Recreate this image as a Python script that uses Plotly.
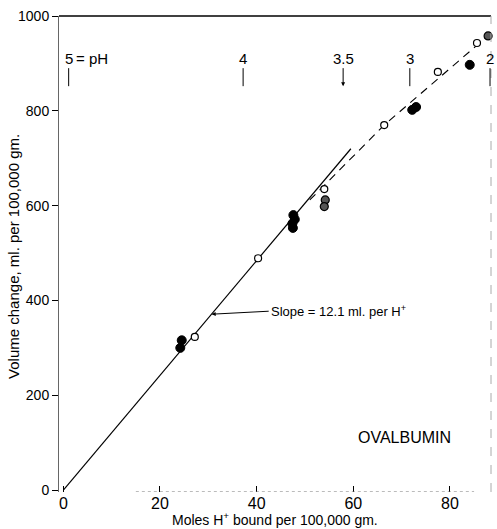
import plotly.graph_objects as go

# ---- data ----
open_x = [27.2, 40.3, 54.0, 66.4, 77.5, 85.6]
open_y = [323, 489, 635, 770, 882, 943]

filled_x = [24.5, 24.2, 47.6, 47.9, 47.4, 47.5, 72.2, 73.0, 84.1]
filled_y = [316, 300, 580, 571, 562, 553, 802, 808, 897]

half_x = [54.2, 54.0, 87.9]
half_y = [612, 598, 958]

fit_x = [0, 59.5]
fit_y = [0, 720]

dash_x = [51.0, 66.4, 88.3]
dash_y = [612, 770, 962]

ph_labels = ["5", "4", "3.5", "3", "2"]
ph_pos = [1.1, 37.2, 57.9, 71.7, 88.3]

x_ticks = [0, 20, 40, 60, 80]
y_ticks = [0, 200, 400, 600, 800, 1000]

FONT = "Liberation Sans, Arial, sans-serif"

fig = go.Figure()
fig.add_trace(go.Scatter(x=fit_x, y=fit_y, mode="lines",
                         line=dict(color="black", width=1.2), hoverinfo="skip"))
fig.add_trace(go.Scatter(x=dash_x, y=dash_y, mode="lines",
                         line=dict(color="black", width=1.1, dash="8px,6px"), hoverinfo="skip"))
fig.add_trace(go.Scatter(x=filled_x, y=filled_y, mode="markers", cliponaxis=False,
                         marker=dict(color="black", size=9, line=dict(color="black", width=1))))
fig.add_trace(go.Scatter(x=half_x, y=half_y, mode="markers", cliponaxis=False,
                         marker=dict(color="#555", size=8, line=dict(color="black", width=1.2))))
fig.add_trace(go.Scatter(x=open_x, y=open_y, mode="markers", cliponaxis=False,
                         marker=dict(color="white", size=7, line=dict(color="black", width=1.2))))

annotations = []
for lab, px in zip(ph_labels, ph_pos):
    annotations.append(dict(x=px, y=852, xref="x", yref="y", text=lab,
                            showarrow=True, ax=0, ay=-28, arrowhead=(2 if lab == "3.5" else 0),
                            arrowsize=0.8, arrowwidth=1, arrowcolor="black",
                            font=dict(family=FONT, size=15, color="black")))
annotations.append(dict(x=2.3, y=911, xref="x", yref="y", text="= pH", showarrow=False,
                        xanchor="left", font=dict(family=FONT, size=15, color="black")))
annotations.append(dict(x=30.7, y=371, xref="x", yref="y",
                        text="Slope = 12.1 ml. per H<sup>+</sup>",
                        showarrow=True, ax=57, ay=-3, xanchor="left",
                        arrowhead=2, arrowsize=0.8, arrowwidth=1, arrowcolor="black",
                        font=dict(family=FONT, size=13, color="black")))
annotations.append(dict(x=70.7, y=112, xref="x", yref="y", text="OVALBUMIN", showarrow=False,
                        font=dict(family=FONT, size=16, color="black")))
# axis titles
annotations.append(dict(x=0.5, y=-0.056, xref="paper", yref="paper",
                        text="Moles H<sup>+</sup> bound per 100,000 gm.", showarrow=False,
                        xanchor="center", yanchor="middle",
                        font=dict(family=FONT, size=14, color="black")))
annotations.append(dict(x=-0.104, y=0.494, xref="paper", yref="paper",
                        text="Volume change, ml. per 100,000 gm.", showarrow=False,
                        textangle=-90, xanchor="center", yanchor="middle",
                        font=dict(family=FONT, size=15, color="black")))

shapes = [
    dict(type="line", xref="paper", yref="paper", x0=0, x1=1, y0=1, y1=1,
         line=dict(color="black", width=1.5)),
    dict(type="line", xref="paper", yref="paper", x0=1, x1=1, y0=0, y1=1,
         line=dict(color="#aaa", width=1, dash="dash")),
    dict(type="line", xref="x", yref="y", x0=15, x1=85, y0=-4, y1=-4,
         line=dict(color="#777", width=1, dash="dot")),
]

fig.update_layout(
    width=497, height=529,
    margin=dict(l=59, r=6, t=16, b=37),
    paper_bgcolor="white", plot_bgcolor="white",
    showlegend=False,
    font=dict(family=FONT, color="black"),
    annotations=annotations, shapes=shapes,
    xaxis=dict(range=[-0.9, 88.5], tickvals=x_ticks, ticks="inside", ticklen=6,
               tickcolor="black", showgrid=False, zeroline=False, showline=False,
               automargin=False, tickfont=dict(size=16, family=FONT)),
    yaxis=dict(range=[-4, 1000], tickvals=y_ticks, ticks="outside", ticklen=6,
               tickcolor="black", showgrid=False, zeroline=False, showline=True,
               linecolor="#666", linewidth=1, automargin=False,
               tickfont=dict(size=14, family=FONT)),
)

fig.write_html("out.html", config={"displayModeBar": False},
               post_script="document.body.style.margin='0';document.body.style.overflow='hidden';")
